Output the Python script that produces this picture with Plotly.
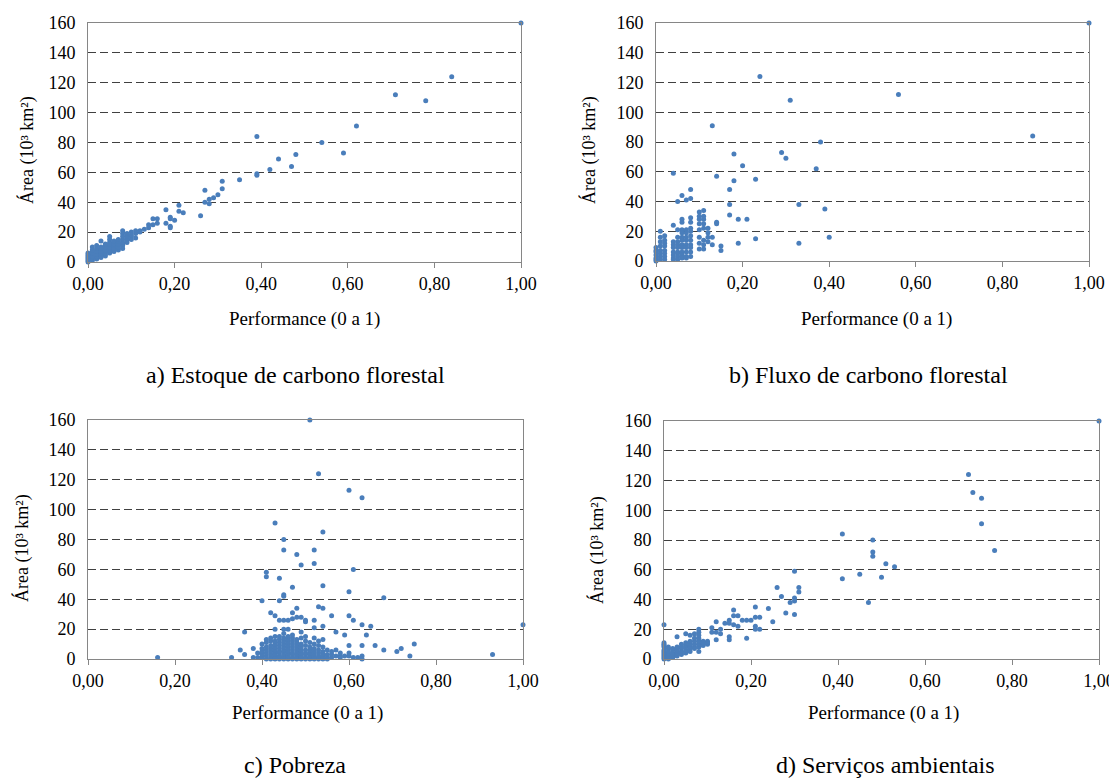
import plotly.graph_objects as go

# --------------------------------------------------
# Données : (performance, área 10³ km²)
# --------------------------------------------------
estoque_pts = [
    (1.00, 160), (0.84, 124), (0.71, 112), (0.78, 108), (0.62, 91), (0.39, 84),
    (0.54, 80), (0.59, 73), (0.48, 72), (0.44, 69), (0.47, 64), (0.42, 62),
    (0.39, 58), (0.39, 59), (0.35, 55), (0.31, 54), (0.31, 49), (0.27, 48),
    (0.30, 45), (0.29, 43), (0.28, 42), (0.28, 39), (0.27, 40), (0.26, 31),
    (0.21, 38), (0.21, 34), (0.22, 33), (0.18, 35), (0.19, 30), (0.19, 29),
    (0.20, 28), (0.18, 26), (0.19, 24), (0.19, 23), (0.16, 29), (0.15, 29),
    (0.16, 26), (0.15, 25), (0.14, 25), (0.14, 23), (0.13, 22), (0.12, 21),
    (0.12, 20), (0.11, 21), (0.10, 20), (0.10, 17), (0.10, 15), (0.09, 15),
    (0.08, 21), (0.08, 19), (0.08, 11), (0.08, 9), (0.07, 13), (0.07, 11),
    (0.07, 9), (0.06, 13), (0.06, 10), (0.05, 17), (0.05, 15), (0.05, 13),
    (0.05, 11), (0.04, 11), (0.04, 9), (0.03, 14), (0.03, 10), (0.03, 8),
    (0.02, 11), (0.02, 8), (0.02, 6), (0.01, 10), (0.01, 7), (0.01, 5),
    (0.00, 6), (0.00, 3), (0.00, 1),
]
estoque_cols = {
    0.00: [0, 2, 4, 5], 0.01: [1, 2, 3, 4, 6, 8], 0.02: [2, 3, 4, 5, 7, 9],
    0.03: [3, 4, 5, 6, 7, 9], 0.04: [4, 5, 6, 7, 8, 10, 12],
    0.05: [6, 7, 8, 9, 10, 12], 0.06: [7, 8, 9, 11, 12, 14],
    0.07: [8, 10, 12, 14, 15], 0.08: [12, 13, 15, 17], 0.09: [13, 17, 19],
    0.10: [18], 0.11: [16, 19],
}

fluxo_pts = [
    (1.00, 160), (0.87, 84), (0.56, 112), (0.24, 124), (0.31, 108), (0.13, 91),
    (0.38, 80), (0.18, 72), (0.29, 73), (0.30, 69), (0.20, 64), (0.37, 62),
    (0.04, 59), (0.14, 57), (0.18, 54), (0.23, 55), (0.17, 48), (0.08, 48),
    (0.06, 44), (0.08, 42), (0.07, 41), (0.05, 40), (0.17, 38), (0.33, 38),
    (0.39, 35), (0.17, 31), (0.14, 26), (0.19, 28), (0.21, 28), (0.40, 16),
    (0.23, 15), (0.19, 12), (0.33, 12), (0.15, 10), (0.15, 7), (0.14, 25),
]
fluxo_cols = {
    0.00: [9, 7, 6, 4, 2, 1, 0], 0.01: [20, 16, 13, 10, 7, 5, 3, 1],
    0.02: [17, 14, 12, 10, 7, 5, 3, 1], 0.04: [24, 13, 11, 9, 6, 4, 2, 1],
    0.05: [21, 16, 13, 11, 9, 6, 5, 3, 1],
    0.06: [28, 26, 21, 19, 16, 14, 11, 9, 6, 4, 2],
    0.07: [21, 19, 16, 14, 11, 9, 6, 3, 2],
    0.08: [29, 26, 22, 20, 17, 14, 11, 9, 6, 3],
    0.10: [33, 30, 28, 25, 21, 16, 12, 8], 0.11: [34, 30, 28, 25, 22, 14, 11, 8],
    0.12: [22, 19, 16, 13], 0.13: [16, 11],
}

pobreza_pts = [
    (0.16, 1), (0.33, 1), (0.35, 6), (0.36, 3), (0.36, 18), (0.38, 7), (0.38, 1),
    (0.40, 39), (0.41, 58), (0.41, 55), (0.43, 91), (0.42, 31), (0.43, 29),
    (0.44, 54), (0.44, 39), (0.45, 80), (0.45, 73), (0.45, 43), (0.45, 42),
    (0.47, 48), (0.47, 31), (0.48, 70), (0.48, 34), (0.49, 63), (0.49, 28),
    (0.51, 160), (0.52, 73), (0.52, 64), (0.53, 124), (0.54, 85), (0.54, 49),
    (0.53, 35), (0.54, 34), (0.56, 29), (0.57, 18), (0.59, 16), (0.60, 113),
    (0.63, 108), (0.61, 60), (0.60, 45), (0.60, 29), (0.61, 26), (0.54, 22),
    (0.52, 21), (0.63, 23), (0.65, 22), (0.64, 16), (0.68, 41), (0.60, 9),
    (0.63, 9), (0.66, 9), (0.68, 6), (0.71, 5), (0.72, 7), (0.75, 10),
    (0.74, 2), (0.93, 3), (1.00, 23), (0.60, 2), (0.61, 1), (0.63, 2),
    (0.63, 0), (0.58, 2), (0.59, 2), (0.44, 26), (0.45, 26), (0.46, 26),
    (0.47, 27), (0.48, 28), (0.50, 26), (0.50, 25), (0.52, 26), (0.43, 20),
    (0.45, 20), (0.46, 20),
]
pobreza_cols = {
    0.39: [1, 4], 0.40: [1, 3, 5, 7, 10], 0.41: [0, 2, 4, 6, 8, 11, 13],
    0.42: [0, 1, 3, 5, 7, 9, 12, 14], 0.43: [0, 2, 3, 5, 6, 8, 10, 12, 15],
    0.44: [0, 1, 2, 4, 5, 7, 9, 11, 13, 15],
    0.45: [0, 1, 2, 3, 5, 6, 8, 10, 12, 14, 17],
    0.46: [0, 1, 2, 4, 5, 7, 9, 11, 13, 15],
    0.47: [0, 1, 3, 4, 6, 8, 10, 12, 14, 16],
    0.48: [0, 1, 2, 3, 5, 7, 9, 11, 13], 0.49: [0, 1, 2, 4, 6, 8, 10, 14, 18],
    0.50: [0, 1, 3, 4, 6, 9, 12, 15], 0.51: [0, 1, 2, 4, 6, 8, 11],
    0.52: [0, 1, 3, 5, 7, 10, 14], 0.53: [0, 1, 2, 4, 6, 9, 12],
    0.54: [0, 2, 3, 5, 8, 13], 0.55: [0, 1, 3, 6], 0.56: [1, 3, 5],
    0.57: [2, 6], 0.58: [1, 4], 0.60: [4], 0.62: [1],
}

servicos_pts = [
    (1.00, 160), (0.70, 124), (0.71, 112), (0.73, 108), (0.73, 91), (0.41, 84),
    (0.48, 80), (0.48, 72), (0.48, 69), (0.76, 73), (0.51, 64), (0.53, 62),
    (0.45, 57), (0.41, 54), (0.50, 55), (0.47, 38), (0.30, 59), (0.26, 48),
    (0.31, 48), (0.31, 45), (0.27, 42), (0.30, 41), (0.30, 39), (0.29, 38),
    (0.24, 34), (0.28, 31), (0.30, 30), (0.25, 25), (0.16, 33), (0.21, 35),
    (0.12, 25), (0.15, 26), (0.15, 24), (0.16, 29), (0.17, 29), (0.14, 24),
    (0.18, 26), (0.19, 26), (0.20, 26), (0.21, 28), (0.22, 28), (0.16, 23),
    (0.17, 22), (0.21, 22), (0.21, 20), (0.22, 20), (0.19, 14), (0.13, 20),
    (0.13, 17), (0.11, 21), (0.11, 18), (0.12, 18), (0.15, 15), (0.15, 13),
    (0.12, 13), (0.08, 20), (0.08, 18), (0.07, 17), (0.06, 16), (0.05, 17),
    (0.03, 15), (0.00, 23), (0.09, 12), (0.10, 12), (0.10, 10), (0.09, 10),
    (0.08, 5),
]
servicos_cols = {
    0.00: [0, 1, 2, 3, 4, 5, 6, 8, 9, 10, 11], 0.01: [0, 1, 2, 3, 4, 5, 7, 8],
    0.02: [1, 2, 3, 4, 6, 7], 0.03: [2, 3, 4, 5, 6, 8],
    0.04: [3, 4, 5, 7, 8, 10], 0.05: [4, 5, 6, 8, 9, 11],
    0.06: [5, 7, 8, 10, 12], 0.07: [7, 8, 10, 12, 14],
    0.08: [8, 10, 12, 14, 16], 0.09: [9, 11], 0.10: [11],
}

captions = ["a) Estoque de carbono florestal", "b) Fluxo de carbono florestal",
            "c) Pobreza", "d) Serviços ambientais"]
x_ticks = [0, 0.2, 0.4, 0.6, 0.8, 1.0]
x_ticktext = ["0,00", "0,20", "0,40", "0,60", "0,80", "1,00"]
y_ticks = [0, 20, 40, 60, 80, 100, 120, 140, 160]

FONT = "Liberation Serif, Times New Roman, DejaVu Serif, serif"
BLUE = "#4A7EBB"
W, H = 1117, 780
OFF = 8  # marge du <body> de la page

# Position des panneaux en pixels (gauche, droite, haut, bas)
panels = [
    (88, 521, 23, 262),
    (656, 1089, 23, 261),
    (88, 523, 420, 659),
    (664, 1099, 421, 659),
]
ytitle_pos = [(27, 150), (589, 150), (22, 548), (597, 550)]
xtitle_pos = [(304, 319), (876, 319), (307, 713), (883, 713)]
caption_pos = [(295, 375), (869, 375), (295, 765), (885, 765)]


def px(x):
    return (x - OFF) / W


def py(y):
    return 1 - (y - OFF) / H


def merge(pts, cols):
    xs = [p[0] for p in pts]
    ys = [p[1] for p in pts]
    for cx, vals in cols.items():
        for v in vals:
            xs.append(cx)
            ys.append(v)
    return xs, ys


datasets = [
    merge(estoque_pts, estoque_cols),
    merge(fluxo_pts, fluxo_cols),
    merge(pobreza_pts, pobreza_cols),
    merge(servicos_pts, servicos_cols),
]

fig = go.Figure()
annotations = []

for i, ((xs, ys), (l, r, t, b)) in enumerate(zip(datasets, panels)):
    n = "" if i == 0 else str(i + 1)
    fig.add_trace(go.Scatter(
        x=xs, y=ys, mode="markers",
        marker=dict(color=BLUE, size=5, line=dict(width=0)),
        xaxis="x" + n, yaxis="y" + n,
        cliponaxis=False, showlegend=False,
    ))
    fig.update_layout({
        "xaxis" + n: dict(
            domain=[px(l), px(r)], range=[0, 1], anchor="y" + n,
            tickvals=x_ticks, ticktext=x_ticktext,
            ticks="outside", ticklen=5, tickcolor="#868686",
            showline=True, linecolor="#868686", mirror=True,
            showgrid=False, zeroline=False, automargin=False,
            tickfont=dict(family=FONT, size=18, color="#000"),
        ),
        "yaxis" + n: dict(
            domain=[py(b), py(t)], range=[0, 160], anchor="x" + n,
            tickvals=y_ticks, ticks="",
            showline=True, linecolor="#868686", mirror=True,
            showgrid=True, gridcolor="#404040", griddash="8px,4px", gridwidth=1,
            zeroline=False, ticklabelstandoff=8, automargin=False,
            tickfont=dict(family=FONT, size=18, color="#000"),
        ),
    })

    annotations.append(dict(
        text="Área (10³ km²)", textangle=-90, showarrow=False,
        x=px(ytitle_pos[i][0]), y=py(ytitle_pos[i][1]),
        xref="paper", yref="paper", xanchor="center", yanchor="middle",
        font=dict(family=FONT, size=18, color="#000"),
    ))
    annotations.append(dict(
        text="Performance (0 a 1)", showarrow=False,
        x=px(xtitle_pos[i][0]), y=py(xtitle_pos[i][1]),
        xref="paper", yref="paper", xanchor="center", yanchor="middle",
        font=dict(family=FONT, size=19, color="#000"),
    ))
    annotations.append(dict(
        text=captions[i], showarrow=False,
        x=px(caption_pos[i][0]), y=py(caption_pos[i][1]),
        xref="paper", yref="paper", xanchor="center", yanchor="middle",
        font=dict(family=FONT, size=24, color="#000"),
    ))

fig.update_layout(
    width=W, height=H,
    margin=dict(l=0, r=0, t=0, b=0),
    paper_bgcolor="white", plot_bgcolor="white",
    annotations=annotations,
)

fig.write_html("out.html")
